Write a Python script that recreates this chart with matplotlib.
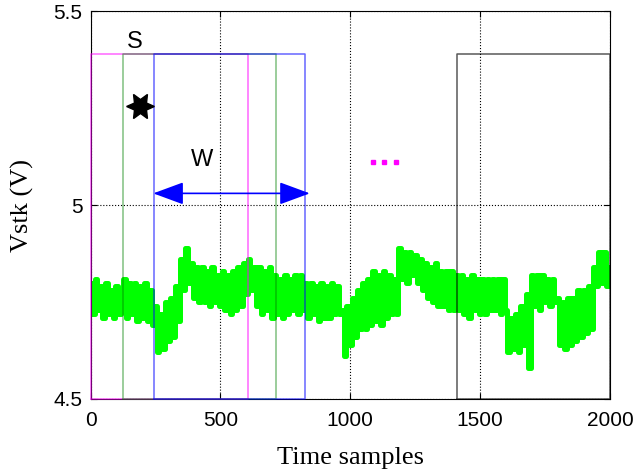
import numpy as np
import matplotlib
matplotlib.use("Agg")
import matplotlib.pyplot as plt

# ---- data ----
sample_step = 10
vstk = [
    4.80, 4.72, 4.81, 4.73, 4.79, 4.71, 4.80, 4.72, 4.78, 4.71, 4.79, 4.72, 4.78,
    4.81, 4.71, 4.80, 4.72, 4.80, 4.70, 4.79, 4.71, 4.80, 4.70, 4.78, 4.69,
    4.74, 4.62, 4.72, 4.63,
    4.75, 4.65, 4.76, 4.66, 4.79, 4.70,
    4.86, 4.78, 4.89, 4.80, 4.85, 4.76, 4.84, 4.75, 4.84, 4.75, 4.83, 4.74, 4.84, 4.75, 4.82, 4.74,
    4.83, 4.73, 4.82, 4.72, 4.83, 4.73, 4.84, 4.74, 4.85, 4.77,
    4.86, 4.78, 4.84, 4.74, 4.84, 4.72, 4.83, 4.73, 4.84, 4.71,
    4.82, 4.72, 4.81, 4.71, 4.82, 4.72, 4.81, 4.73, 4.82, 4.72, 4.82, 4.73,
    4.80, 4.71, 4.80, 4.72, 4.79, 4.70, 4.80, 4.71, 4.79, 4.71, 4.80, 4.72, 4.79, 4.72,
    4.73, 4.61, 4.74, 4.64, 4.76, 4.66, 4.78,
    4.68, 4.80, 4.68, 4.81, 4.69, 4.83, 4.70, 4.82, 4.69, 4.83, 4.71, 4.82, 4.72, 4.81, 4.72,
    4.89, 4.81, 4.88, 4.80, 4.88, 4.82, 4.87, 4.80, 4.86, 4.78,
    4.85, 4.76, 4.84, 4.75, 4.85, 4.74, 4.83, 4.74, 4.83, 4.73, 4.83, 4.73, 4.82,
    4.73, 4.82, 4.72, 4.81, 4.71, 4.82, 4.73, 4.81, 4.72, 4.81, 4.72, 4.81, 4.73, 4.81, 4.73, 4.81, 4.72, 4.81, 4.73,
    4.62, 4.71, 4.63, 4.72, 4.62, 4.74, 4.64, 4.77, 4.58,
    4.82, 4.74, 4.82, 4.73, 4.82, 4.75, 4.81, 4.74, 4.81, 4.75, 4.76,
    4.64, 4.75, 4.63, 4.76, 4.64, 4.76, 4.65, 4.78, 4.66, 4.78, 4.67, 4.79, 4.68,
    4.84, 4.79, 4.88, 4.80, 4.88, 4.79, 4.84,
]
samples = np.arange(len(vstk)) * sample_step

# sliding windows: (start, end, colour)
win_start = [0, 123, 243, 1412]
win_end = [607, 712, 825, 2000]
win_colors = ["#ff00ff", "#008000", "#0000ff", "#000000"]
win_alpha = [0.6, 0.5, 0.6, 0.65]
win_top = 5.39

xticks = [0, 500, 1000, 1500, 2000]
yticks = [4.5, 5, 5.5]

# ---- figure ----
fig = plt.figure(figsize=(6.4, 4.75), dpi=100)
ax = fig.add_axes([0.1417, 0.16, 0.953 - 0.1417, 0.9768 - 0.16])

ax.plot(samples, vstk, color="#00ff00", lw=3.6, zorder=2, drawstyle="steps-mid",
        solid_joinstyle="round", solid_capstyle="round")

for s, e, c, a in zip(win_start, win_end, win_colors, win_alpha):
    ax.plot([s, s, e, e, s], [4.5, win_top, win_top, 4.5, 4.5], color=c, alpha=a,
            lw=1.1, zorder=3, clip_on=(e >= 2000))

ax.text(171, 5.421, "S", fontsize=17, ha="center", va="center", family="Liberation Sans")
ax.plot([190], [5.255], marker=(6, 1, 90), ms=20, color="black", zorder=4)

ax.text(427, 5.116, "W", fontsize=17, ha="center", va="center", family="Liberation Sans")
ax.annotate("", xy=(844, 5.03), xytext=(241, 5.03),
            arrowprops=dict(arrowstyle="<|-|>,head_length=1.9,head_width=0.7",
                            color="blue", lw=1.2, shrinkA=0, shrinkB=0,
                            mutation_scale=10), zorder=4)

ax.plot([1086, 1131, 1176], [5.11, 5.11, 5.11], ls="none", marker="s", ms=3.5,
        color="#ff00ff", zorder=4)

ax.set_xlim(0, 2000)
ax.set_ylim(4.5, 5.5)
ax.set_xticks(xticks)
ax.set_yticks(yticks)
ax.set_yticklabels(["4.5", "5", "5.5"])
ax.grid(True, color="black", ls=":", lw=0.8)
ax.tick_params(direction="in", top=True, right=True, labelsize=15, length=4)
ax.tick_params(axis="x", pad=9)
ax.tick_params(axis="y", pad=6)
for lab in ax.get_xticklabels() + ax.get_yticklabels():
    lab.set_family("Liberation Sans")
for sp in ax.spines.values():
    sp.set_linewidth(0.8)

ax.set_xlabel("Time samples", fontsize=19, family="Liberation Serif", labelpad=12)
ax.set_ylabel("Vstk (V)", fontsize=19, family="Liberation Serif", labelpad=14)

fig.savefig("out.png", dpi=100)
